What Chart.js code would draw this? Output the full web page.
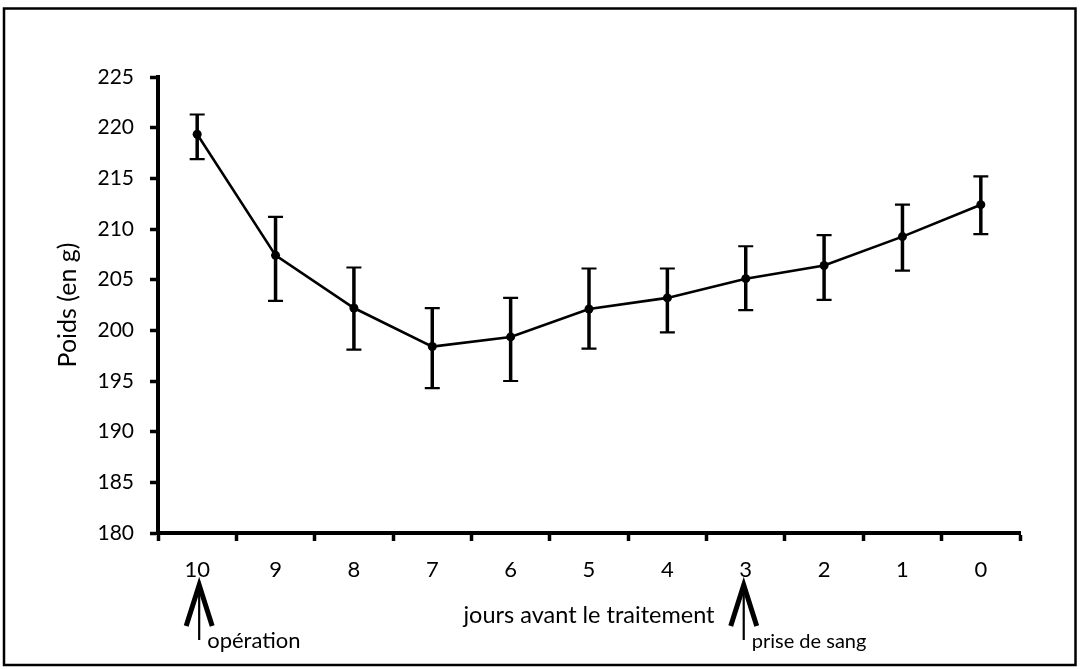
<!DOCTYPE html>
<html>
<head>
<meta charset="utf-8">
<script src="https://cdn.jsdelivr.net/npm/chart.js@4.4.1/dist/chart.umd.min.js"></script>
<style>
  html, body { margin: 0; padding: 0; background: #fff; }
  #wrap { position: relative; width: 1080px; height: 669px; }
</style>
</head>
<body>
<div id="wrap"><canvas id="c" width="1080" height="669"></canvas></div>
<script>
// ---- data ----
const categories = ['10', '9', '8', '7', '6', '5', '4', '3', '2', '1', '0'];
const weights    = [219.35, 207.4, 202.2, 198.4, 199.35, 202.1, 203.2, 205.1, 206.4, 209.25, 212.4];
const upperBound = [221.3, 211.2, 206.2, 202.2, 203.2, 206.1, 206.1, 208.3, 209.4, 212.4, 215.2];
const lowerBound = [216.9, 202.9, 198.1, 194.3, 195.0, 198.2, 199.8, 202.0, 203.0, 205.9, 209.5];
const yTicks = { min: 180, max: 225, step: 5 };
const yTitle = 'Poids (en g)';
const xTitle = 'jours avant le traitement';
const arrowCategories = ['10', '3'];
const arrowLabels = ['opération', 'prise de sang'];

const FONT = 'Lato';

const extras = {
  id: 'extras',
  afterDatasetsDraw(chart) {
    const ctx = chart.ctx;
    const xs = chart.scales.x, ys = chart.scales.y;
    ctx.save();
    ctx.strokeStyle = '#000';
    // error bars
    for (let i = 0; i < categories.length; i++) {
      const x = xs.getPixelForValue(i);
      const yt = ys.getPixelForValue(upperBound[i]);
      const yb = ys.getPixelForValue(lowerBound[i]);
      ctx.lineWidth = 3.5;
      ctx.beginPath(); ctx.moveTo(x, yt); ctx.lineTo(x, yb); ctx.stroke();
      ctx.lineWidth = 2.2;
      ctx.beginPath();
      ctx.moveTo(x - 7.5, yt); ctx.lineTo(x + 7.5, yt);
      ctx.moveTo(x - 7.5, yb); ctx.lineTo(x + 7.5, yb);
      ctx.stroke();
    }
    ctx.restore();
  },
  afterDraw(chart) {
    const ctx = chart.ctx;
    const xs = chart.scales.x;
    const area = chart.chartArea;
    ctx.save();
    // frame
    ctx.strokeStyle = '#000';
    ctx.lineWidth = 2.5;
    ctx.strokeRect(4, 8.5, 1071.5, 656.5);
    // arrows
    arrowCategories.forEach((cat, k) => {
      const idx = categories.indexOf(cat);
      const x = xs.getPixelForValue(idx) + (k === 0 ? 2 : -2);
      const tip = area.bottom + 52;
      ctx.lineWidth = 2.2;
      ctx.beginPath(); ctx.moveTo(x, tip + 4); ctx.lineTo(x, tip + 55); ctx.stroke();
      ctx.lineWidth = 5;
      ctx.lineJoin = 'miter';
      ctx.beginPath();
      ctx.moveTo(x - 13, tip + 41); ctx.lineTo(x, tip); ctx.lineTo(x + 13, tip + 41);
      ctx.stroke();
      ctx.fillStyle = '#000';
      ctx.font = (k === 0 ? '22px ' : '20px ') + FONT;
      ctx.textAlign = 'left';
      ctx.textBaseline = 'alphabetic';
      ctx.fillText(arrowLabels[k], x + 8, area.bottom + 115);
    });
    ctx.restore();
  }
};

new Chart(document.getElementById('c'), {
  type: 'line',
  data: {
    labels: categories,
    datasets: [{
      data: weights,
      borderColor: '#000',
      backgroundColor: '#000',
      borderWidth: 2.6,
      pointRadius: 4.5,
      pointBackgroundColor: '#000',
      pointBorderWidth: 0,
      tension: 0,
      fill: false
    }]
  },
  options: {
    responsive: false,
    animation: false,
    events: [],
    layout: { padding: { left: 0, top: 77, right: 60, bottom: 0 } },
    plugins: { legend: { display: false }, tooltip: { enabled: false } },
    scales: {
      x: {
        type: 'category',
        offset: true,
        grid: { offset: true, drawOnChartArea: false, drawTicks: true, tickLength: 8, tickWidth: 3.5, tickColor: '#000' },
        border: { display: true, color: '#000', width: 4 },
        ticks: { color: '#000', font: { family: FONT, size: 22 }, padding: 16, maxRotation: 0, autoSkip: false },
        title: { display: true, text: xTitle, color: '#000', font: { family: FONT, size: 23.5 }, padding: { top: 0, bottom: 39 } },
        afterFit(scale) { scale.height = 136; }
      },
      y: {
        min: yTicks.min,
        max: yTicks.max,
        grid: { drawOnChartArea: false, drawTicks: true, tickLength: 8, tickWidth: 3.5, tickColor: '#000' },
        border: { display: true, color: '#000', width: 4 },
        ticks: { stepSize: yTicks.step, color: '#000', font: { family: FONT, size: 21 }, padding: 16 },
        title: { display: true, text: yTitle, color: '#000', font: { family: FONT, size: 25 }, padding: { top: 53, bottom: 0 } },
        afterFit(scale) { scale.width = 158; }
      }
    }
  },
  plugins: [extras]
});
</script>
</body>
</html>
